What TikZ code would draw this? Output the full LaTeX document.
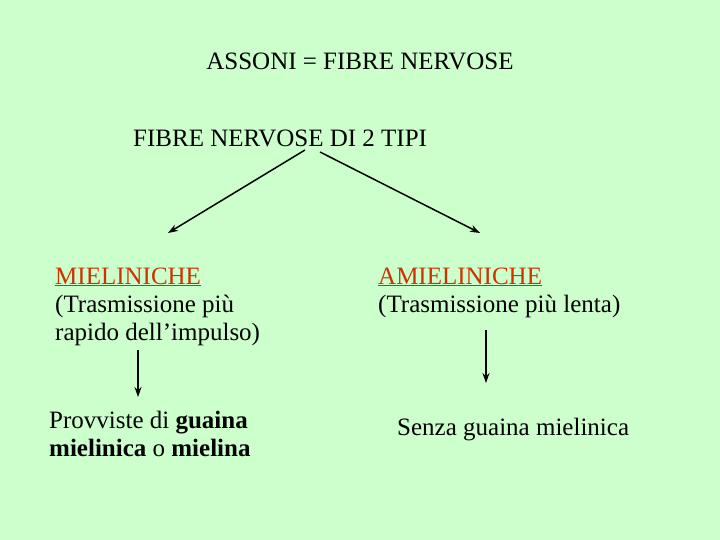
\documentclass[tikz,border=0pt]{standalone}
\usepackage{fontspec}
\setmainfont{Liberation Serif}
\usetikzlibrary{arrows.meta}
\definecolor{bg}{HTML}{CCFFCC}
\definecolor{rd}{HTML}{CC3300}
\begin{document}
\begin{tikzpicture}[x=1pt,y=-1pt,
  txt/.style={inner sep=0pt,font=\fontsize{25}{28}\selectfont},
  arr/.style={line width=1.5pt,-{Stealth[length=10pt,width=7pt]}}]
\fill[bg] (0,0) rectangle (720,540);
\useasboundingbox (0,0) rectangle (720,540);
\node[txt,anchor=base] (t1) at (360,70) {ASSONI = FIBRE NERVOSE};
\node[txt,anchor=base west] (t2) at (133,147) {FIBRE NERVOSE DI 2 TIPI};
\node[txt,anchor=base west] (m) at (55,284) {\textcolor{rd}{\underline{MIELINICHE}}};
\node[txt,anchor=base west] (m2) at (55,312) {(Trasmissione più};
\node[txt,anchor=base west] (m3) at (55,340) {rapido dell’impulso)};
\node[txt,anchor=base west] (a) at (378,284) {\textcolor{rd}{\underline{AMIELINICHE}}};
\node[txt,anchor=base west] (a2) at (378,312) {(Trasmissione più lenta)};
\node[txt,anchor=base west] (p) at (49,428) {Provviste di \textbf{guaina}};
\node[txt,anchor=base west] (p2) at (49,456) {\textbf{mielinica} o \textbf{mielina}};
\node[txt,anchor=base west] (s) at (397,435) {Senza guaina mielinica};
\coordinate (c1) at (305,150); \coordinate (c2) at (168,233);
\coordinate (c3) at (320,152); \coordinate (c4) at (480,233);
\coordinate (c5) at (138,350); \coordinate (c6) at (138,397);
\coordinate (c7) at (486,330); \coordinate (c8) at (486,383);
\draw[arr] (c1) -- (c2);
\draw[arr] (c3) -- (c4);
\draw[arr] (c5) -- (c6);
\draw[arr] (c7) -- (c8);
\end{tikzpicture}
\end{document}
